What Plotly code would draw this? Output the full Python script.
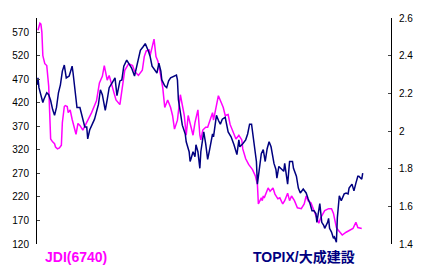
import plotly.graph_objects as go

# JDI(6740) share price (left axis), by trading-day index
jdi_day = [1, 3, 4, 5, 6, 8, 10, 12, 13, 14, 16, 18, 19, 21, 23, 25, 26, 28, 29, 31, 32, 34, 36, 38, 40,
           42, 44, 47, 50, 53, 56, 59, 61, 64, 67, 69, 72, 74, 78, 81, 85, 88, 90, 94, 98, 100, 104, 108,
           110, 112, 115, 116, 119, 120, 122, 124, 127, 129, 131, 134, 137, 139, 141, 144, 147, 148, 151,
           153, 155, 158, 160, 162, 165, 167, 168, 170, 173, 175, 179, 180, 181, 184, 186, 189, 191, 193,
           196, 198, 201, 204, 207, 210, 211, 214, 217, 221, 224, 226, 227, 230, 231, 232, 233, 237, 239,
           242, 244, 247, 249, 252, 254, 257, 259, 261, 264, 267, 271, 274, 276, 278, 281, 284, 286, 289,
           291, 295, 299, 302, 304, 307, 309, 313, 317, 321, 324, 327, 329, 333]
jdi_val = [574, 589, 587, 570, 520, 503, 499, 455, 399, 343, 337, 333, 326, 322, 324, 330, 378, 412, 414,
           412, 399, 405, 385, 368, 353, 376, 372, 362, 374, 387, 399, 414, 424, 462, 476, 499, 468, 478,
           447, 426, 416, 455, 489, 503, 499, 487, 478, 489, 518, 530, 532, 520, 551, 555, 518, 508, 476,
           451, 410, 426, 410, 393, 364, 383, 437, 426, 393, 351, 393, 368, 351, 378, 405, 351, 341, 362,
           368, 368, 393, 399, 383, 416, 435, 420, 410, 393, 395, 374, 357, 343, 351, 341, 322, 301, 289,
           278, 264, 247, 205, 218, 212, 222, 218, 239, 232, 239, 226, 216, 218, 205, 212, 228, 212, 222,
           212, 197, 195, 205, 222, 212, 207, 191, 176, 164, 176, 191, 195, 195, 185, 155, 149, 139, 145,
           149, 153, 166, 155, 153]

# TOPIX / Taisei ratio (right axis)
ratio_day = [0, 1, 2, 5, 6, 7, 10, 12, 14, 16, 18, 20, 22, 24, 26, 28, 30, 33, 36, 37, 39, 41, 44, 46, 49,
             51, 52, 54, 57, 59, 63, 65, 67, 70, 72, 74, 77, 80, 82, 85, 87, 89, 92, 95, 97, 100, 102, 104,
             106, 109, 111, 114, 116, 118, 121, 123, 125, 127, 128, 131, 133, 135, 137, 139, 141, 143, 144,
             145, 147, 149, 152, 153, 156, 157, 158, 160, 162, 163, 165, 167, 168, 171, 173, 175, 177, 180,
             181, 184, 186, 188, 190, 193, 196, 199, 202, 205, 207, 208, 211, 214, 216, 218, 220, 221, 223,
             225, 226, 228, 230, 232, 233, 234, 236, 238, 240, 243, 245, 246, 248, 251, 253, 254, 257, 259,
             262, 263, 264, 266, 268, 270, 273, 276, 278, 280, 282, 284, 286, 287, 290, 292, 294, 295, 298,
             299, 300, 302, 304, 305, 307, 308, 310, 312, 315, 317, 319, 320, 323, 325, 327, 329, 330, 333,
             334]
ratio_val = [2.245, 2.282, 2.230, 2.162, 2.151, 2.167, 2.203, 2.193, 2.162, 2.115, 2.083, 2.125, 2.203,
             2.245, 2.318, 2.350, 2.282, 2.292, 2.344, 2.308, 2.219, 2.125, 2.125, 2.083, 2.021, 2.021,
             1.958, 2.005, 2.042, 2.063, 2.141, 2.219, 2.193, 2.110, 2.167, 2.230, 2.256, 2.282, 2.188,
             2.266, 2.271, 2.344, 2.376, 2.350, 2.334, 2.292, 2.334, 2.386, 2.428, 2.449, 2.464, 2.428,
             2.396, 2.344, 2.318, 2.308, 2.360, 2.318, 2.271, 2.240, 2.230, 2.266, 2.282, 2.287, 2.292,
             2.297, 2.271, 2.167, 2.099, 2.031, 1.984, 1.943, 1.890, 1.838, 1.854, 1.890, 1.864, 1.927,
             1.890, 1.802, 1.890, 1.995, 1.932, 1.849, 1.901, 1.984, 1.969, 2.083, 2.057, 2.036, 2.063,
             2.073, 1.995, 1.969, 1.927, 1.875, 1.953, 1.916, 1.932, 1.953, 1.984, 2.036, 2.036, 1.995,
             1.901, 1.838, 1.718, 1.802, 1.880, 1.901, 1.864, 1.838, 1.906, 1.943, 1.916, 1.828, 1.796,
             1.750, 1.812, 1.796, 1.786, 1.828, 1.718, 1.838, 1.838, 1.802, 1.786, 1.760, 1.697, 1.671,
             1.692, 1.671, 1.640, 1.614, 1.577, 1.577, 1.562, 1.515, 1.614, 1.515, 1.499, 1.483, 1.515,
             1.536, 1.483, 1.463, 1.431, 1.437, 1.410, 1.541, 1.656, 1.630, 1.666, 1.671, 1.666, 1.697,
             1.718, 1.682, 1.723, 1.760, 1.760, 1.744, 1.776, 1.786]

left_ticks = [120, 170, 220, 270, 320, 370, 420, 470, 520, 570]
right_ticks = [1.4, 1.6, 1.8, 2.0, 2.2, 2.4, 2.6]
right_labels = ["1.4", "1.6", "1.8", "2", "2.2", "2.4", "2.6"]

MAGENTA = "#FF00FF"
NAVY = "#000080"
FONT = "Liberation Sans, Noto Sans CJK JP"

fig = go.Figure()
fig.add_trace(go.Scatter(x=ratio_day, y=ratio_val, mode="lines", yaxis="y2",
                         line=dict(color=NAVY, width=1.5), name="TOPIX/大成建設"))
fig.add_trace(go.Scatter(x=jdi_day, y=jdi_val, mode="lines", yaxis="y",
                         line=dict(color=MAGENTA, width=1.5), name="JDI(6740)"))

fig.update_layout(
    width=425, height=277,
    margin=dict(l=33, r=29, t=14, b=33),
    paper_bgcolor="white", plot_bgcolor="white",
    showlegend=False,
    font=dict(family=FONT, size=10, color="black"),
    xaxis=dict(range=[0, 363], visible=False, showgrid=False, zeroline=False),
    yaxis=dict(range=[120, 600], tickvals=left_ticks, ticks="inside", ticklen=3,
               showline=True, linecolor="black", linewidth=1, showgrid=False, zeroline=False,
               ticklabelstandoff=5, tickfont=dict(size=10)),
    yaxis2=dict(range=[1.4, 2.6], tickvals=right_ticks, ticktext=right_labels, overlaying="y",
                side="right", anchor="x", ticks="inside", ticklen=3,
                showline=True, linecolor="black", linewidth=1, showgrid=False, zeroline=False,
                ticklabelstandoff=5, tickfont=dict(size=10)),
    annotations=[
        dict(text="<b>JDI(6740)</b>", xref="paper", yref="paper", x=0.017, y=-0.057,
             xanchor="left", yanchor="middle", showarrow=False,
             font=dict(family=FONT, size=14, color=MAGENTA)),
        dict(text="<b>TOPIX/大成建設</b>", xref="paper", yref="paper", x=0.604, y=-0.057,
             xanchor="left", yanchor="middle", showarrow=False,
             font=dict(family=FONT, size=14, color=NAVY)),
    ],
)

fig.write_html("out.html")
